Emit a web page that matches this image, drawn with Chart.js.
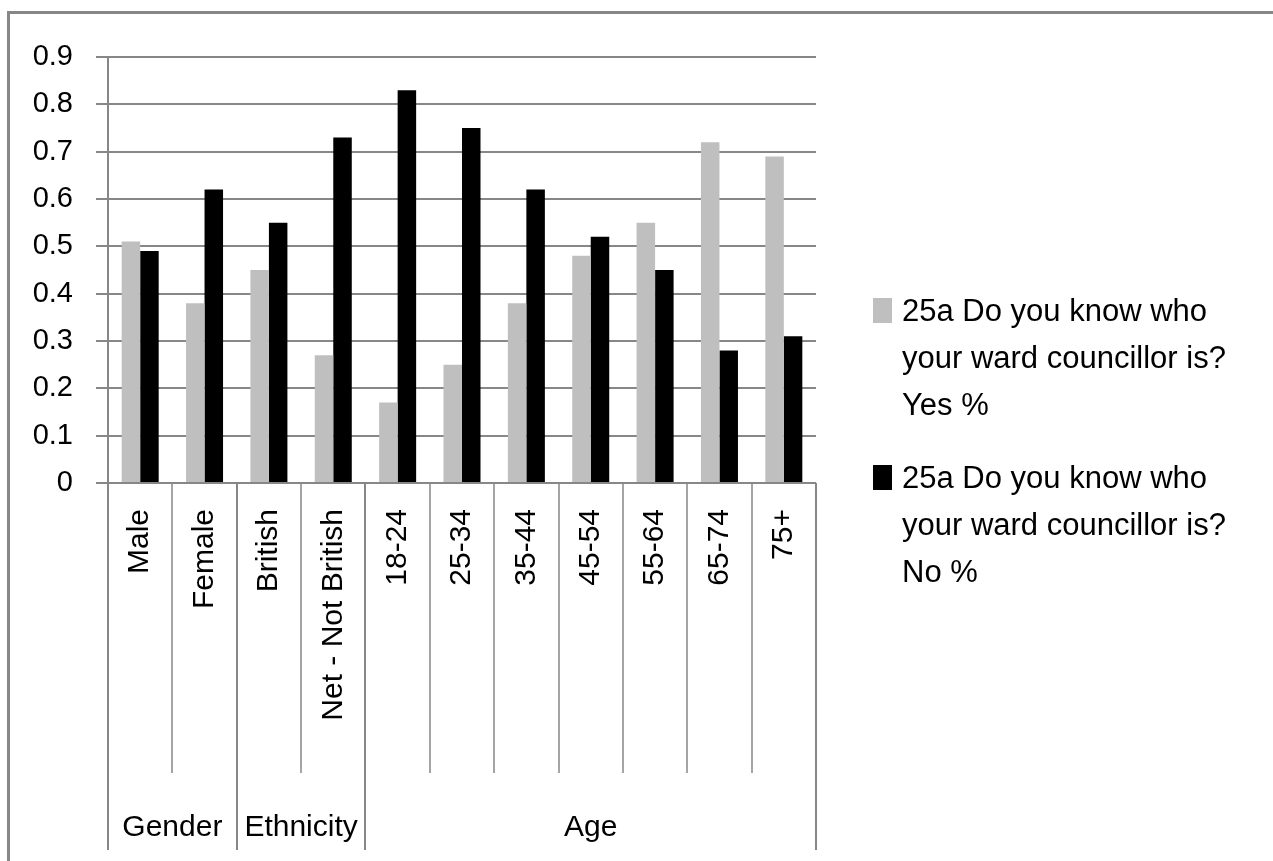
<!DOCTYPE html>
<html>
<head>
<meta charset="utf-8">
<script src="https://cdn.jsdelivr.net/npm/chart.js@4/dist/chart.umd.min.js"></script>
<style>
  html, body { margin: 0; padding: 0; background: #ffffff; }
  #wrap { width: 1273px; height: 861px; position: relative; }
</style>
</head>
<body>
<div id="wrap"><canvas id="chart" width="1273" height="861"></canvas></div>
<script>
// Survey answers by respondent group
const categories = ['Male', 'Female', 'British', 'Net - Not British', '18-24', '25-34', '35-44', '45-54', '55-64', '65-74', '75+'];
const yesValues = [0.51, 0.38, 0.45, 0.27, 0.17, 0.25, 0.38, 0.48, 0.55, 0.72, 0.69];
const noValues  = [0.49, 0.62, 0.55, 0.73, 0.83, 0.75, 0.62, 0.52, 0.45, 0.28, 0.31];
const groupNames = ['Gender', 'Ethnicity', 'Age'];
const groupSizes = [2, 2, 7];
const seriesNames = [
  '25a Do you know who your ward councillor is? Yes %',
  '25a Do you know who your ward councillor is? No %'
];
const yTickValues = [0, 0.1, 0.2, 0.3, 0.4, 0.5, 0.6, 0.7, 0.8, 0.9];

const FONT = "'Liberation Sans', Arial, sans-serif";
const GRID = '#878787';

// Outer frame of the chart
const framePlugin = {
  id: 'frame',
  beforeDraw(chart) {
    const ctx = chart.ctx;
    ctx.save();
    ctx.fillStyle = '#ffffff';
    ctx.fillRect(0, 0, chart.width, chart.height);
    ctx.strokeStyle = GRID;
    ctx.lineWidth = 3;
    ctx.strokeRect(8.5, 12.5, chart.width + 20, chart.height + 20);
    ctx.restore();
  }
};

// Two-level category axis: separators between categories and group labels
const groupAxisPlugin = {
  id: 'groupAxis',
  afterDraw(chart) {
    const ctx = chart.ctx;
    const xs = chart.scales.x;
    const bottom = chart.chartArea.bottom;
    const step = xs.getPixelForValue(1) - xs.getPixelForValue(0);
    const innerEnd = bottom + 290;
    const groupEnd = bottom + 367;
    const groupEdges = [0];
    groupSizes.forEach(s => groupEdges.push(groupEdges[groupEdges.length - 1] + s));
    ctx.save();
    ctx.strokeStyle = GRID;
    for (let i = 0; i <= categories.length; i++) {
      const x = Math.round(xs.getPixelForValue(i) - step / 2);
      const isGroup = groupEdges.includes(i);
      ctx.lineWidth = isGroup ? 2 : 1.5;
      ctx.beginPath();
      ctx.moveTo(x, bottom);
      ctx.lineTo(x, isGroup ? groupEnd : innerEnd);
      ctx.stroke();
    }
    ctx.fillStyle = '#000000';
    ctx.font = '30px ' + FONT;
    ctx.textAlign = 'center';
    ctx.textBaseline = 'alphabetic';
    groupNames.forEach((name, g) => {
      const x0 = xs.getPixelForValue(groupEdges[g]) - step / 2;
      const x1 = xs.getPixelForValue(groupEdges[g + 1]) - step / 2;
      ctx.fillText(name, (x0 + x1) / 2, bottom + 353);
    });
    ctx.restore();
  }
};

// Legend on the right with wrapped series names
const sideLegendPlugin = {
  id: 'sideLegend',
  afterDraw(chart) {
    const ctx = chart.ctx;
    const left = 873, textX = 902, top0 = 298, entryGap = 167, lineH = 47, maxW = 345;
    ctx.save();
    ctx.font = '31px ' + FONT;
    ctx.textAlign = 'left';
    ctx.textBaseline = 'alphabetic';
    chart.data.datasets.forEach((ds, k) => {
      const top = top0 + k * entryGap;
      ctx.fillStyle = ds.backgroundColor;
      ctx.fillRect(left, top, 19, 25);
      const words = ds.label.split(' ');
      const lines = [];
      let cur = '';
      words.forEach(w => {
        const test = cur ? cur + ' ' + w : w;
        if (ctx.measureText(test).width > maxW && cur) { lines.push(cur); cur = w; }
        else cur = test;
      });
      if (cur) lines.push(cur);
      ctx.fillStyle = '#000000';
      lines.forEach((ln, j) => ctx.fillText(ln, textX, top + 23 + j * lineH));
    });
    ctx.restore();
  }
};

new Chart(document.getElementById('chart'), {
  type: 'bar',
  data: {
    labels: categories,
    datasets: [
      { label: seriesNames[0], data: yesValues, backgroundColor: '#bfbfbf', borderWidth: 0 },
      { label: seriesNames[1], data: noValues,  backgroundColor: '#000000', borderWidth: 0 }
    ]
  },
  options: {
    responsive: false,
    animation: false,
    devicePixelRatio: 1,
    layout: { padding: { top: 57, right: 457, bottom: 0, left: 0 } },
    datasets: { bar: { categoryPercentage: 0.575, barPercentage: 1.0 } },
    plugins: {
      legend: { display: false },
      tooltip: { enabled: false },
      title: { display: false }
    },
    scales: {
      x: {
        grid: { display: false, drawTicks: false },
        border: { display: false },
        ticks: {
          autoSkip: false,
          minRotation: 90,
          maxRotation: 90,
          padding: 26,
          color: '#000000',
          font: { family: FONT, size: 30 }
        },
        afterFit(scale) { scale.height = 378; }
      },
      y: {
        min: 0,
        max: 0.9,
        afterBuildTicks(scale) { scale.ticks = yTickValues.map(v => ({ value: v })); },
        grid: { color: GRID, lineWidth: 2, tickLength: 12, drawTicks: true },
        border: { display: true, color: GRID, width: 2 },
        ticks: {
          padding: 23,
          color: '#000000',
          font: { family: FONT, size: 29 },
          callback: v => (v === 0 ? '0' : v.toFixed(1))
        },
        afterFit(scale) { scale.width = 108; }
      }
    }
  },
  plugins: [framePlugin, groupAxisPlugin, sideLegendPlugin]
});
</script>
</body>
</html>
